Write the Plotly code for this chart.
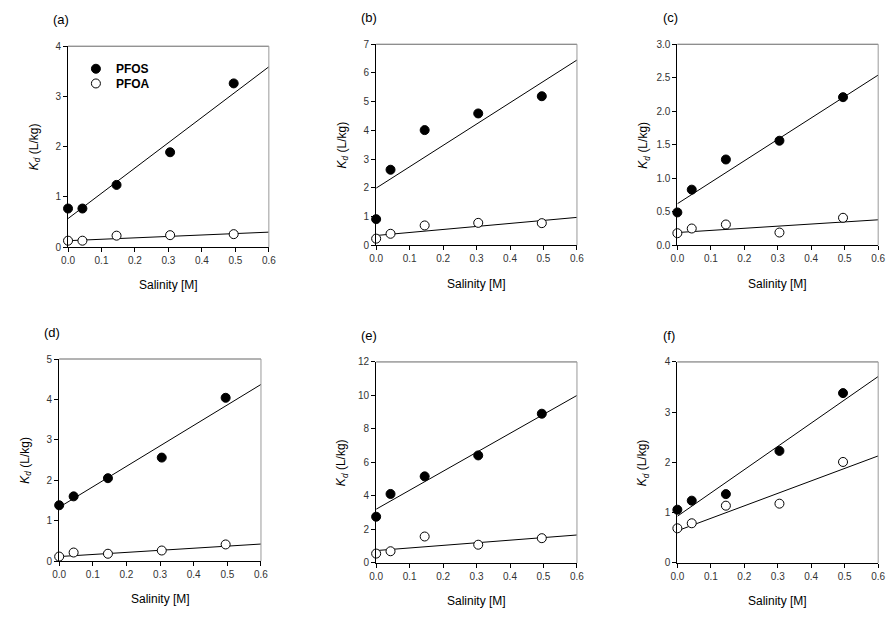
import plotly.graph_objects as go

# ---------------- data ----------------
salinity = [0.0, 0.043, 0.145, 0.305, 0.495]
fit_x = [0.0, 0.6]
panel_labels = ["(a)", "(b)", "(c)", "(d)", "(e)", "(f)"]

pfos_a = [0.77, 0.77, 1.24, 1.89, 3.26]
pfoa_a = [0.13, 0.13, 0.23, 0.24, 0.26]
pfos_fit_a = [0.57, 3.59]
pfoa_fit_a = [0.13, 0.30]

pfos_b = [0.91, 2.63, 4.01, 4.59, 5.19]
pfoa_b = [0.23, 0.40, 0.69, 0.78, 0.77]
pfos_fit_b = [1.99, 6.45]
pfoa_fit_b = [0.34, 0.97]

pfos_c = [0.49, 0.83, 1.28, 1.56, 2.21]
pfoa_c = [0.18, 0.25, 0.31, 0.19, 0.41]
pfos_fit_c = [0.62, 2.54]
pfoa_fit_c = [0.19, 0.38]

pfos_d = [1.38, 1.60, 2.05, 2.56, 4.04]
pfoa_d = [0.11, 0.21, 0.18, 0.26, 0.41]
pfos_fit_d = [1.33, 4.37]
pfoa_fit_d = [0.11, 0.42]

pfos_e = [2.76, 4.12, 5.17, 6.42, 8.91]
pfoa_e = [0.56, 0.70, 1.58, 1.09, 1.48]
pfos_fit_e = [3.21, 10.0]
pfoa_fit_e = [0.74, 1.67]

pfos_f = [1.06, 1.24, 1.37, 2.23, 3.38]
pfoa_f = [0.69, 0.79, 1.14, 1.18, 2.01]
pfos_fit_f = [0.93, 3.71]
pfoa_fit_f = [0.64, 2.13]

y_max = [4, 7, 3, 5, 12, 4]
y_dtick = [1, 1, 0.5, 1, 2, 1]
y_fmt = ["d", "d", ".1f", "d", "d", "d"]
x_ticks = [0.0, 0.1, 0.2, 0.3, 0.4, 0.5, 0.6]

pfos_all = [pfos_a, pfos_b, pfos_c, pfos_d, pfos_e, pfos_f]
pfoa_all = [pfoa_a, pfoa_b, pfoa_c, pfoa_d, pfoa_e, pfoa_f]
pfos_fit_all = [pfos_fit_a, pfos_fit_b, pfos_fit_c, pfos_fit_d, pfos_fit_e, pfos_fit_f]
pfoa_fit_all = [pfoa_fit_a, pfoa_fit_b, pfoa_fit_c, pfoa_fit_d, pfoa_fit_e, pfoa_fit_f]

# ---------------- layout geometry (pixels in the 896x618 window) ----------------
W, H = 896, 618


def px(x):
    return x / W


def py(y):
    return 1 - y / H


# (left, right, top, bottom) of each plot frame in window pixels
frames = [
    (62, 266, 41, 246),
    (375, 579, 39, 244),
    (681, 885, 39, 244),
    (53, 258, 360, 566),
    (375, 579, 363, 568),
    (681, 885, 363, 568),
]
FONT = "Arial, Liberation Sans, sans-serif"

fig = go.Figure()
annotations = []
shapes = []

for i in range(6):
    ax = "" if i == 0 else str(i + 1)
    xref, yref = "x" + ax, "y" + ax
    l, r, t, b = frames[i]

    # fit lines
    for fit in (pfos_fit_all[i], pfoa_fit_all[i]):
        fig.add_trace(go.Scatter(
            x=fit_x, y=fit, mode="lines", xaxis=xref, yaxis=yref,
            line=dict(color="black", width=1), showlegend=False,
            hoverinfo="skip"))
    # points
    fig.add_trace(go.Scatter(
        x=salinity, y=pfos_all[i], mode="markers", xaxis=xref, yaxis=yref,
        name="PFOS", showlegend=(i == 0), legend="legend", cliponaxis=False,
        marker=dict(symbol="circle", size=9, color="black",
                    line=dict(color="black", width=1))))
    fig.add_trace(go.Scatter(
        x=salinity, y=pfoa_all[i], mode="markers", xaxis=xref, yaxis=yref,
        name="PFOA", showlegend=(i == 0), legend="legend2", cliponaxis=False,
        marker=dict(symbol="circle", size=9, color="white",
                    line=dict(color="black", width=1))))

    common = dict(showline=True, linecolor="black", linewidth=1,
                  ticks="outside", ticklen=4, tickwidth=1, tickcolor="black",
                  showgrid=False, zeroline=False,
                  tickfont=dict(family=FONT, size=10, color="#333"))
    fig.layout["xaxis" + ax] = dict(
        domain=[px(l), px(r)], anchor=yref, range=[0, 0.6],
        tickvals=x_ticks, tickformat=".1f", **common)
    fig.layout["yaxis" + ax] = dict(
        domain=[py(b), py(t)], anchor=xref, range=[0, y_max[i]],
        dtick=y_dtick[i], tick0=0, tickformat=y_fmt[i], **common)

    # grey top and right frame edges
    shapes.append(dict(type="line", xref=xref + " domain", yref=yref + " domain",
                       x0=0, x1=1, y0=1, y1=1, line=dict(color="#666", width=1)))
    shapes.append(dict(type="line", xref=xref + " domain", yref=yref + " domain",
                       x0=1, x1=1, y0=0, y1=1, line=dict(color="#999", width=1)))

    # panel label
    annotations.append(dict(text=panel_labels[i], xref="paper", yref="paper",
                            x=px(l - 17), y=py(t - 27),
                            xanchor="left", yanchor="middle", showarrow=False,
                            font=dict(family=FONT, size=13, color="black")))
    # y title
    annotations.append(dict(text="<i>K<sub>d</sub></i> (L/kg)", xref="paper", yref="paper",
                            x=px(l - 34), y=py((t + b) / 2),
                            xanchor="center", yanchor="middle", textangle=-90,
                            showarrow=False,
                            font=dict(family=FONT, size=12, color="black")))
    # x title
    annotations.append(dict(text="Salinity [M]", xref="paper", yref="paper",
                            x=px((l + r) / 2), y=py(b + 39),
                            xanchor="center", yanchor="middle", showarrow=False,
                            font=dict(family=FONT, size=12, color="black")))

legend_common = dict(xanchor="left", yanchor="middle", bgcolor="rgba(0,0,0,0)",
                     font=dict(family=FONT, size=12, color="black", weight="bold"),
                     itemwidth=30)

fig.update_layout(
    width=W, height=H,
    margin=dict(l=0, r=0, t=0, b=0),
    paper_bgcolor="white", plot_bgcolor="white",
    font=dict(family=FONT, color="black"),
    annotations=annotations, shapes=shapes,
    legend=dict(x=px(70), y=py(64), **legend_common),
    legend2=dict(x=px(70), y=py(79), **legend_common),
)

fig.write_html(
    "out.html",
    config={"displayModeBar": False},
    post_script="document.body.style.margin='0';document.body.style.overflow='hidden';",
)
